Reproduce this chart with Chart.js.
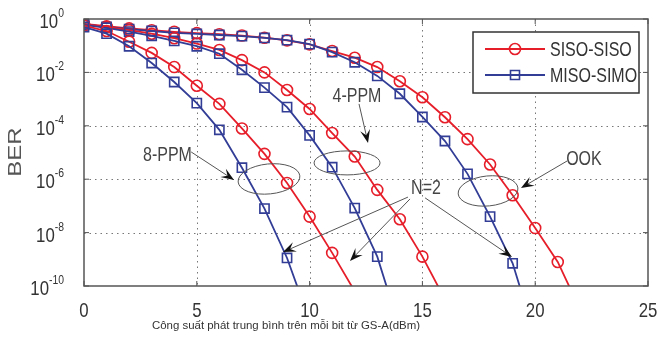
<!DOCTYPE html>
<html>
<head>
<meta charset="utf-8">
<script src="https://cdn.jsdelivr.net/npm/chart.js@4"></script>
<style>
  body { margin: 0; background: #fff; }
  #wrap { width: 659px; height: 344px; position: relative; }
</style>
</head>
<body>
<div id="wrap"><canvas id="ber"></canvas></div>
<script>
// SNR axis (dBm), one marker per integer step
const snr = [0, 1, 2, 3, 4, 5, 6, 7, 8, 9, 10, 11, 12, 13, 14, 15, 16, 17, 18, 19, 20, 21, 22];

// BER, stored as log10(BER); last value of each is below the axis (line runs out the bottom)
const ppm8Siso = [-0.25, -0.45, -0.85, -1.27, -1.8, -2.5, -3.18, -4.1, -5.05, -6.14, -7.4, -8.76, -10.2];
const ppm8Miso = [-0.3, -0.55, -1.02, -1.65, -2.36, -3.15, -4.15, -5.57, -7.1, -8.95, -11.3];
const ppm4Siso = [-0.2, -0.3, -0.42, -0.55, -0.72, -0.92, -1.16, -1.54, -2.0, -2.66, -3.37, -4.27, -5.15, -6.4, -7.5, -8.9, -10.5];
const ppm4Miso = [-0.22, -0.33, -0.47, -0.63, -0.82, -1.02, -1.3, -1.9, -2.57, -3.3, -4.36, -5.55, -7.08, -8.9, -11.6];
const ookSiso = [-0.18, -0.27, -0.35, -0.42, -0.48, -0.53, -0.57, -0.62, -0.7, -0.8, -0.95, -1.2, -1.45, -1.8, -2.33, -2.93, -3.68, -4.5, -5.45, -6.6, -7.83, -9.1, -10.9];
const ookMiso = [-0.2, -0.3, -0.38, -0.45, -0.52, -0.56, -0.6, -0.64, -0.71, -0.79, -0.94, -1.24, -1.62, -2.13, -2.8, -3.67, -4.57, -5.8, -7.4, -9.15, -11.9];

const xTicks = [0, 5, 10, 15, 20, 25];
const yTickExps = [0, -2, -4, -6, -8, -10];
const legendLabels = ["SISO-SISO", "MISO-SIMO"];
const xTitle = "Công suất phát trung bình trên mỗi bit từ GS-A(dBm)";
const yTitle = "BER";

const RED = "#e61e2a";
const BLUE = "#323d96";
const FONT = '"Liberation Sans", Arial, sans-serif';

function toPoints(exps) {
  return exps.map((e, i) => ({ x: snr[i], y: Math.pow(10, e) }));
}

function series(exps, siso) {
  return {
    data: toPoints(exps),
    borderColor: siso ? RED : BLUE,
    borderWidth: 1.8,
    pointStyle: siso ? "circle" : "rect",
    pointRadius: ctx => (ctx.raw && ctx.raw.y < 1e-10 ? 0 : (siso ? 5.5 : 6.5)),
    pointBorderWidth: 1.6,
    pointBorderColor: siso ? RED : BLUE,
    pointBackgroundColor: "rgba(0,0,0,0)",
    tension: 0,
    fill: false
  };
}

// text helper, the original picture is squeezed horizontally
function txt(ctx, s, x, y, size, align, sx, color) {
  ctx.save();
  ctx.font = size + "px " + FONT;
  ctx.fillStyle = color || "#333";
  ctx.textAlign = align || "left";
  ctx.textBaseline = "alphabetic";
  ctx.translate(x, y);
  ctx.scale(sx || 0.8, 1);
  ctx.fillText(s, 0, 0);
  ctx.restore();
}

function arrow(ctx, x1, y1, x2, y2) {
  const dx = x2 - x1, dy = y2 - y1;
  const len = Math.hypot(dx, dy);
  const ux = dx / len, uy = dy / len, nx = -uy, ny = ux;
  const L = 13, W = 5;
  ctx.save();
  ctx.strokeStyle = "#555";
  ctx.lineWidth = 1;
  ctx.beginPath();
  ctx.moveTo(x1, y1);
  ctx.lineTo(x2 - 0.6 * L * ux, y2 - 0.6 * L * uy);
  ctx.stroke();
  ctx.fillStyle = "#111";
  ctx.beginPath();
  ctx.moveTo(x2, y2);
  ctx.lineTo(x2 - L * ux + W * nx, y2 - L * uy + W * ny);
  ctx.lineTo(x2 - 0.6 * L * ux, y2 - 0.6 * L * uy);
  ctx.lineTo(x2 - L * ux - W * nx, y2 - L * uy - W * ny);
  ctx.closePath();
  ctx.fill();
  ctx.restore();
}

function ellipse(ctx, cx, cy, rx, ry, rot) {
  ctx.save();
  ctx.strokeStyle = "#555";
  ctx.lineWidth = 1;
  ctx.beginPath();
  ctx.ellipse(cx, cy, rx, ry, rot, 0, Math.PI * 2);
  ctx.stroke();
  ctx.restore();
}

const matlabLook = {
  id: "matlabLook",
  beforeDatasetsDraw(chart) {
    const ctx = chart.ctx, a = chart.chartArea;
    const xs = chart.scales.x, ys = chart.scales.y;
    ctx.save();
    ctx.strokeStyle = "#777";
    ctx.lineWidth = 1;
    ctx.setLineDash([1.5, 4]);
    yTickExps.forEach(e => {
      if (e === 0 || e === -10) return;
      const y = Math.round(ys.getPixelForValue(Math.pow(10, e))) + 0.5;
      ctx.beginPath(); ctx.moveTo(a.left, y); ctx.lineTo(a.right, y); ctx.stroke();
    });
    xTicks.forEach(v => {
      if (v === 0 || v === 25) return;
      const x = Math.round(xs.getPixelForValue(v)) + 0.5;
      ctx.beginPath(); ctx.moveTo(x, a.top); ctx.lineTo(x, a.bottom); ctx.stroke();
    });
    ctx.restore();
  },
  afterDatasetsDraw(chart) {
    const ctx = chart.ctx, a = chart.chartArea;
    const xs = chart.scales.x, ys = chart.scales.y;
    const px = v => xs.getPixelForValue(v);
    const py = e => ys.getPixelForValue(Math.pow(10, e));

    // frame + inward ticks
    ctx.save();
    ctx.strokeStyle = "#555";
    ctx.lineWidth = 1.5;
    ctx.strokeRect(a.left, a.top, a.right - a.left, a.bottom - a.top);
    ctx.lineWidth = 1;
    ctx.beginPath();
    xTicks.forEach(v => {
      const x = px(v);
      ctx.moveTo(x, a.bottom); ctx.lineTo(x, a.bottom - 5);
      ctx.moveTo(x, a.top); ctx.lineTo(x, a.top + 5);
    });
    yTickExps.forEach(e => {
      const y = py(e);
      ctx.moveTo(a.left, y); ctx.lineTo(a.left + 5, y);
      ctx.moveTo(a.right, y); ctx.lineTo(a.right - 5, y);
    });
    ctx.stroke();
    ctx.restore();

    // tick labels
    xTicks.forEach(v => txt(ctx, String(v), px(v), a.bottom + 31, 21, "center", 0.8, "#333"));
    yTickExps.forEach(e => {
      const y = py(e);
      const sup = e === 0 ? "0" : "-" + (-e);
      ctx.save();
      ctx.font = "21px " + FONT;
      const w1 = ctx.measureText("10").width * 0.8;
      ctx.font = "13px " + FONT;
      const w2 = ctx.measureText(sup).width * 0.8;
      ctx.restore();
      const right = a.left - 20;
      txt(ctx, "10", right - w2 - w1, y + 9, 21, "left", 0.8, "#333");
      txt(ctx, sup, right - w2, y - 2, 13, "left", 0.8, "#333");
    });

    // axis titles
    ctx.save();
    ctx.translate(16, 152);
    ctx.scale(0.8, 1);
    ctx.rotate(-Math.PI / 2);
    ctx.font = "24px " + FONT;
    ctx.fillStyle = "#555";
    ctx.textAlign = "center";
    ctx.textBaseline = "middle";
    ctx.fillText(yTitle, 0, 0);
    ctx.restore();

    ctx.save();
    ctx.font = "11px " + FONT;
    const tw = ctx.measureText(xTitle).width;
    ctx.restore();
    txt(ctx, xTitle, 286, 329, 11, "center", 268 / tw, "#333");

    // legend
    const lx = a.right - 175, ly = a.top + 13;
    ctx.save();
    ctx.fillStyle = "#fff";
    ctx.fillRect(lx, ly, 166, 61);
    ctx.strokeStyle = "#333";
    ctx.lineWidth = 1.5;
    ctx.strokeRect(lx, ly, 166, 61);
    [[RED, "circle", 17], [BLUE, "rect", 43]].forEach(([col, shape, dy], i) => {
      const y = ly + dy;
      ctx.strokeStyle = col;
      ctx.lineWidth = 1.8;
      ctx.beginPath(); ctx.moveTo(lx + 12, y); ctx.lineTo(lx + 72, y); ctx.stroke();
      ctx.lineWidth = 1.6;
      ctx.beginPath();
      if (shape === "circle") ctx.arc(lx + 42, y, 5.5, 0, Math.PI * 2);
      else ctx.rect(lx + 37.5, y - 4.5, 9, 9);
      ctx.stroke();
      txt(ctx, legendLabels[i], lx + 77, y + 7, 20, "left", 0.8, "#333");
    });
    ctx.restore();

    // annotations (positions in data units: snr, log10 BER)
    txt(ctx, "8-PPM", px(3.7), py(-5.04) + 7, 20, "center", 0.8, "#444");
    arrow(ctx, px(4.75), py(-4.98), px(6.65), py(-6.03));
    ellipse(ctx, px(8.2), py(-5.99), 31, 15, -0.1);

    txt(ctx, "4-PPM", px(12.1), py(-2.85) + 7, 20, "center", 0.8, "#444");
    arrow(ctx, px(12.19), py(-3.18), px(12.59), py(-4.64));
    ellipse(ctx, px(11.66), py(-5.39), 33, 12, 0);

    txt(ctx, "OOK", px(22.16), py(-5.21) + 7, 20, "center", 0.8, "#444");
    arrow(ctx, px(21.41), py(-5.32), px(19.37), py(-6.33));
    ellipse(ctx, px(17.91), py(-6.44), 30, 15, -0.1);

    txt(ctx, "N=2", px(15.16), py(-6.29) + 7, 20, "center", 0.8, "#444");
    arrow(ctx, px(14.36), py(-6.67), px(8.82), py(-8.73));
    arrow(ctx, px(14.45), py(-6.74), px(11.79), py(-9.06));
    arrow(ctx, px(15.12), py(-6.7), px(18.97), py(-8.91));
  }
};

new Chart(document.getElementById("ber"), {
  type: "line",
  data: {
    datasets: [
      series(ppm8Miso, false),
      series(ppm8Siso, true),
      series(ppm4Miso, false),
      series(ppm4Siso, true),
      series(ookMiso, false),
      series(ookSiso, true)
    ]
  },
  options: {
    responsive: true,
    maintainAspectRatio: false,
    animation: false,
    events: [],
    layout: { padding: { left: 84, right: 11, top: 19, bottom: 58 } },
    scales: {
      x: { type: "linear", min: 0, max: 25, display: false },
      y: { type: "logarithmic", min: 1e-10, max: 1, display: false }
    },
    plugins: { legend: { display: false }, tooltip: { enabled: false } }
  },
  plugins: [matlabLook]
});
</script>
</body>
</html>
